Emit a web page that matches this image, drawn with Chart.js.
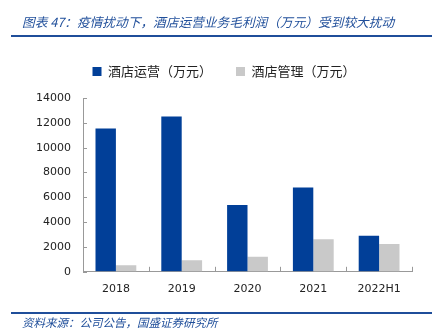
<!DOCTYPE html>
<html lang="zh">
<head>
    <meta charset="UTF-8">
    <title>酒店运营业务毛利润</title>
    <script src="https://cdn.jsdelivr.net/npm/chart.js"></script>
    <style>
        body { margin: 0; background: #fff; }
        #wrap { position: relative; width: 437px; height: 336px; overflow: hidden; }
        #title {
            position: absolute; left: 22px; top: 12px;
            font: italic 12.7px "Noto Sans CJK SC", sans-serif;
            color: #1f4e9a; white-space: nowrap;
        }
        .rule { position: absolute; left: 11px; width: 421px; height: 2px; background: #1f4e9a; }
        #source {
            position: absolute; left: 22px; top: 314px;
            font: italic 11.5px "Noto Sans CJK SC", sans-serif;
            color: #1f4e9a; white-space: nowrap;
        }
        #chartBox { position: absolute; left: 0; top: 0; width: 437px; height: 336px; }
    </style>
</head>
<body>
<div id="wrap">
    <div id="chartBox"><canvas id="profitChart"></canvas></div>
    <div id="title">图表 47：疫情扰动下，酒店运营业务毛利润（万元）受到较大扰动</div>
    <div class="rule" style="top: 35px;"></div>
    <div class="rule" style="top: 312px;"></div>
    <div id="source">资料来源：公司公告，国盛证券研究所</div>
</div>

<script>
    const years = ['2018', '2019', '2020', '2021', '2022H1'];
    const hotelOps = [11550, 12500, 5390, 6790, 2900];
    const hotelMgmt = [520, 940, 1210, 2630, 2230];
    const yTicks = [0, 2000, 4000, 6000, 8000, 10000, 12000, 14000];

    // small tick marks pointing into the plot, like the original office chart
    const innerTicks = {
        id: 'innerTicks',
        afterDraw(chart) {
            const { ctx, scales: { x, y } } = chart;
            ctx.save();
            ctx.strokeStyle = '#999';
            ctx.lineWidth = 1;
            ctx.beginPath();
            yTicks.forEach(v => {
                const py = Math.round(y.getPixelForValue(v)) + 0.5;
                ctx.moveTo(x.left, py);
                ctx.lineTo(x.left + 4, py);
            });
            for (let i = 1; i <= years.length; i++) {
                const px = Math.round(x.left + (x.right - x.left) * i / years.length) + 0.5;
                ctx.moveTo(px, y.bottom);
                ctx.lineTo(px, y.bottom - 5);
            }
            ctx.stroke();
            ctx.restore();
        }
    };

    // extra space under the legend
    const legendGap = {
        id: 'legendGap',
        beforeInit(chart) {
            const fit = chart.legend.fit;
            chart.legend.fit = function () {
                fit.bind(chart.legend)();
                this.height += 10;
            };
        }
    };

    new Chart(document.getElementById('profitChart'), {
        type: 'bar',
        data: {
            labels: years,
            datasets: [
                { label: '酒店运营（万元）', data: hotelOps, backgroundColor: '#013f98' },
                { label: '酒店管理（万元）', data: hotelMgmt, backgroundColor: '#c9c9c9' }
            ]
        },
        options: {
            responsive: true,
            maintainAspectRatio: false,
            animation: false,
            layout: { padding: { left: 36, right: 25, top: 41, bottom: 37 } },
            datasets: { bar: { categoryPercentage: 0.62, barPercentage: 1 } },
            plugins: {
                tooltip: { enabled: false },
                legend: {
                    position: 'top',
                    labels: {
                        boxWidth: 9, boxHeight: 9, padding: 24,
                        color: '#222',
                        font: { family: '"Noto Sans CJK SC", sans-serif', size: 13 }
                    }
                }
            },
            scales: {
                x: {
                    grid: { display: false },
                    border: { color: '#999' },
                    ticks: { color: '#222', padding: 3, font: { family: '"DejaVu Sans", sans-serif', size: 11 } }
                },
                y: {
                    min: 0, max: 14000,
                    afterFit(scale) { scale.width = 47; },
                    afterBuildTicks(scale) { scale.ticks = yTicks.map(v => ({ value: v })); },
                    grid: { drawOnChartArea: false, drawTicks: false },
                    border: { color: '#999' },
                    ticks: {
                        color: '#222', padding: 12,
                        font: { family: '"DejaVu Sans", sans-serif', size: 11 },
                        callback: v => String(v)
                    }
                }
            }
        },
        plugins: [innerTicks, legendGap]
    });
</script>
</body>
</html>
